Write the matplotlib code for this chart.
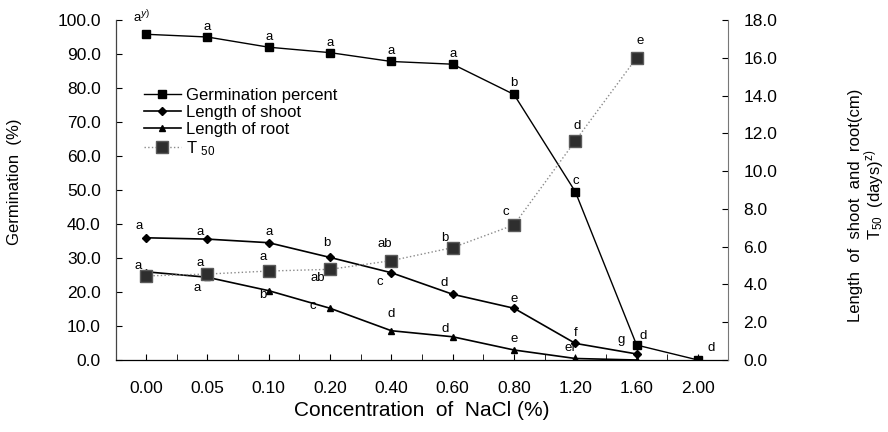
import numpy as np
import matplotlib
matplotlib.use("Agg")
from matplotlib import pyplot as plt

plt.rcParams['font.family'] = ['Liberation Sans', 'DejaVu Sans']
plt.rcParams['mathtext.fontset'] = 'custom'
plt.rcParams['mathtext.rm'] = 'Liberation Sans'

# data
conc = ['0.00', '0.05', '0.10', '0.20', '0.40', '0.60', '0.80', '1.20', '1.60', '2.00']
germ = [95.8, 95.0, 92.0, 90.4, 87.8, 87.0, 78.1, 49.5, 4.4, 0.0]
shoot = [6.47, 6.40, 6.21, 5.43, 4.62, 3.48, 2.74, 0.88, 0.32, np.nan]
root = [4.67, 4.38, 3.67, 2.74, 1.55, 1.23, 0.53, 0.08, 0.0, np.nan]
t50 = [4.45, 4.55, 4.71, 4.80, 5.26, 5.95, 7.15, 11.6, 16.0, np.nan]

germ_lbl = ['a$^{y)}$', 'a', 'a', 'a', 'a', 'a', 'b', 'c', 'd', 'd']
shoot_lbl = ['a', 'a', 'a', 'b', 'c', 'd', 'e', 'f', 'g', '']
root_lbl = ['a', 'a', 'b', 'c', 'd', 'd', 'e', 'ef', '', '']
t50_lbl = ['', 'a', 'a', 'ab', 'ab', 'b', 'c', 'd', 'e', '']

x = np.arange(len(conc))

fig = plt.figure(figsize=(8.88, 4.32), dpi=100)
ax = fig.add_axes([116/888, 1-360/432, 612/888, 340/432])
ax2 = ax.twinx()

ax.plot(x, germ, '-s', color='black', lw=1.0, ms=5.5, label='Germination percent')
ax2.plot(x, shoot, '-D', color='black', lw=1.2, ms=4.5, label='Length of shoot')
ax2.plot(x, root, '-^', color='black', lw=1.2, ms=5, label='Length of root')
ax2.plot(x, t50, ':s', color='#8a8a8a', lw=1.0, ms=8, mfc='#2e2e2e', mec='#5a5a5a',
         label=r'T $\mathregular{_{50}}$')

# letter offsets in pixels (dx, dy)
off_g = [(-4, 17), (0, 10), (0, 10), (0, 10), (0, 10), (0, 10), (0, 11), (1, 11), (7, 9), (13, 12)]
off_s = [(-7, 12), (-7, 7), (0, 11), (-3, 14), (-12, -9), (-8, 11), (0, 9), (0, 10), (-15, 14), (0, 0)]
off_r = [(-8, 6), (-10, -11), (-6, -4), (-17, 2), (0, 17), (-7, 8), (0, 11), (-5, 10), (0, 0), (0, 0)]
off_t = [(0, 0), (-7, 11), (-6, 14), (-12, -9), (-7, 17), (-8, 10), (-8, 13), (2, 15), (4, 17), (0, 0)]

def letters(a, vals, lbls, offs):
    for xi, v, s, (dx, dy) in zip(x, vals, lbls, offs):
        if s and not np.isnan(v):
            a.annotate(s, (xi, v), xytext=(dx, dy), textcoords='offset pixels',
                       ha='center', va='center', fontsize=9.5)

letters(ax, germ, germ_lbl, off_g)
letters(ax2, shoot, shoot_lbl, off_s)
letters(ax2, root, root_lbl, off_r)
letters(ax2, t50, t50_lbl, off_t)

ax.set_xlim(-0.49, 9.49)
ax.set_ylim(0, 100)
ax2.set_ylim(0, 18)
ax.set_xticks(x)
ax.set_xticklabels(conc)
ax.set_xticks(x[:-1] + 0.5, minor=True)
ax.set_yticks(np.arange(0, 101, 10))
ax.set_yticklabels(['%.1f' % v for v in np.arange(0, 101, 10)])
ax2.set_yticks(np.arange(0, 19, 2))
ax2.set_yticklabels(['%.1f' % v for v in np.arange(0, 19, 2)])

ax.tick_params(axis='x', which='both', direction='in', length=4, pad=15, labelsize=12.5)
ax.tick_params(axis='y', direction='in', length=4, pad=11, labelsize=12.5)
ax2.tick_params(axis='y', direction='in', length=4, pad=11, labelsize=12.5)

for a in (ax, ax2):
    a.spines['top'].set_visible(False)
ax2.spines['left'].set_visible(False)
ax2.spines['bottom'].set_visible(False)
ax.spines['right'].set_visible(False)
ax2.spines['right'].set_color('#777777')
ax.spines['left'].set_color('#444444')
for s in ('left', 'bottom'):
    ax.spines[s].set_linewidth(0.9)

ax.set_xlabel('Concentration  of  NaCl (%)', fontsize=15, labelpad=4)
fig.text(15/888, 1-182/432, 'Germination  (%)', rotation=90, ha='center', va='center', fontsize=12)
fig.text(855/888, 1-205/432, 'Length  of  shoot  and  root(cm)', rotation=90,
         ha='center', va='center', fontsize=12)
fig.text(874/888, 1-195/432, r'T$\mathregular{_{50}}$  (days)$^{\mathregular{z)}}$', rotation=90,
         ha='center', va='center', fontsize=12)

h1, l1 = ax.get_legend_handles_labels()
h2, l2 = ax2.get_legend_handles_labels()
ax2.legend(h1 + h2, l1 + l2, loc='upper left', bbox_to_anchor=(0.035, 0.82), frameon=False,
           fontsize=12, handlelength=2.2, handletextpad=0.3, labelspacing=0.12,
           borderaxespad=0)

fig.savefig('out.png', dpi=100)
